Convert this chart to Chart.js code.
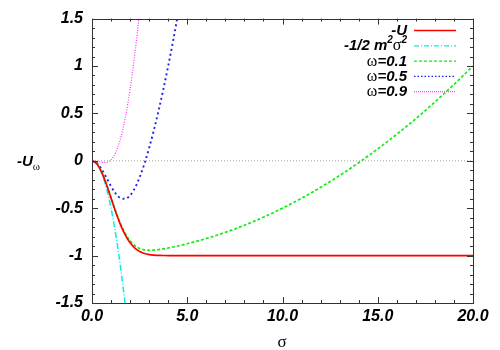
<!DOCTYPE html>
<html>
<head>
<meta charset="utf-8">
<script src="https://cdn.jsdelivr.net/npm/chart.js@4"></script>
<style>
  html, body { margin: 0; padding: 0; background: #fff; }
  #wrap { width: 500px; height: 350px; }
</style>
</head>
<body>
<div id="wrap"><canvas id="chart" width="500" height="350"></canvas></div>
<script>
const sigma = [0, 0.25, 0.5, 0.75, 1, 1.25, 1.5, 1.75, 2, 2.25, 2.5, 2.75, 3, 3.25, 3.5, 3.75, 4, 4.25, 4.5, 4.75, 5,
    6, 7, 8, 9, 10, 11, 12, 13, 14, 15, 16, 17, 18, 19, 20];

const minusU = [0, -0.0308, -0.1175, -0.2452, -0.3935, -0.5422, -0.6754, -0.7837, -0.8647, -0.9204, -0.9561, -0.9772,
    -0.9889, -0.9949, -0.9978, -0.9991, -0.9997, -0.9999, -1, -1, -1,
    -1, -1, -1, -1, -1, -1, -1, -1, -1, -1, -1, -1, -1, -1, -1];
const harmonic = [0, -0.0313, -0.125, -0.2813, -0.5, -0.7813, -1.125, -1.5313, -2];
const omega01 = [0, -0.0305, -0.1163, -0.2424, -0.3885, -0.5344, -0.6641, -0.7684, -0.8447, -0.8951, -0.9248, -0.9394,
    -0.9439, -0.9421, -0.9366, -0.9288, -0.9197, -0.9096, -0.8987, -0.8872, -0.875,
    -0.82, -0.755, -0.68, -0.595, -0.5, -0.395, -0.28, -0.155, -0.02, 0.125, 0.28, 0.445, 0.62, 0.805, 1.0];
const omega05 = [0, -0.023, -0.0863, -0.1749, -0.2685, -0.3469, -0.3941, -0.4009, -0.3647, -0.2876, -0.1748, -0.0319,
    0.1361, 0.3254, 0.5334, 0.7587, 1.0003, 1.258, 1.5313, 1.8203];
const omega09 = [0, -0.0055, -0.0163, -0.0174, 0.0115, 0.0906, 0.2359, 0.4566, 0.7553, 1.1299, 1.5752, 2.0856];
const zeroX = [0, 20];
const zeroY = [0, 0];

const xTicks = [0, 5, 10, 15, 20];
const yTicks = [-1.5, -1, -0.5, 0, 0.5, 1, 1.5];

const BI = sz => 'italic bold ' + sz + 'px "Liberation Sans", Arial, sans-serif';
const SYM = sz => sz + 'px "Liberation Serif", "DejaVu Serif", serif';

function pts(xs, ys) {
    return ys.map((v, i) => ({ x: xs[i], y: v }));
}

const series = [
    { label: [["-U", BI(15)]], data: pts(sigma, minusU), color: '#ff0000', dash: [], width: 1.7, legendDash: [] },
    { label: [["-1/2 m", BI(15)], ["2", BI(10), -7], ["σ", SYM(16)], ["2", BI(10), -7]], data: pts(sigma, harmonic), color: '#00eeee', dash: [6, 2, 1, 2], width: 1.5, legendDash: [5, 2, 1, 2] },
    { label: [["ω", SYM(16)], ["=0.1", BI(15)]], data: pts(sigma, omega01), color: '#11ee11', dash: [3, 2], width: 1.7, legendDash: [3, 2] },
    { label: [["ω", SYM(16)], ["=0.5", BI(15)]], data: pts(sigma, omega05), color: '#2020ee', dash: [2, 3], width: 1.9, legendDash: [1.5, 2] },
    { label: [["ω", SYM(16)], ["=0.9", BI(15)]], data: pts(sigma, omega09), color: '#ff33ff', dash: [1, 1.5], width: 1.2, legendDash: [1, 1] }
];

function drawRich(ctx, segs, x, y, align) {
    let total = 0;
    segs.forEach(s => { ctx.font = s[1]; total += ctx.measureText(s[0]).width; });
    let cx = align === 'right' ? x - total : (align === 'center' ? x - total / 2 : x);
    ctx.textAlign = 'left';
    ctx.textBaseline = 'alphabetic';
    segs.forEach(s => {
        ctx.font = s[1];
        ctx.fillText(s[0], cx, y + (s[2] || 0));
        cx += ctx.measureText(s[0]).width;
    });
}

const decorations = {
    id: 'decorations',
    afterDatasetsDraw(chart) {
        const ctx = chart.ctx;
        const a = chart.chartArea;
        const xs = chart.scales.x, ys = chart.scales.y;
        ctx.save();
        ctx.strokeStyle = '#333';
        ctx.lineWidth = 1;
        ctx.strokeRect(Math.round(a.left) + 0.5, Math.round(a.top) + 0.5, Math.round(a.right - a.left), Math.round(a.bottom - a.top));
        ctx.beginPath();
        for (let v = 0; v <= 20; v += 1) {
            const px = Math.round(xs.getPixelForValue(v)) + 0.5;
            const len = v % 5 === 0 ? 6 : 3;
            ctx.moveTo(px, a.bottom); ctx.lineTo(px, a.bottom - len);
            ctx.moveTo(px, a.top); ctx.lineTo(px, a.top + len);
        }
        for (let i = -15; i <= 15; i++) {
            const py = Math.round(ys.getPixelForValue(i / 10)) + 0.5;
            const len = i % 5 === 0 ? 6 : 3;
            ctx.moveTo(a.left, py); ctx.lineTo(a.left + len, py);
            ctx.moveTo(a.right, py); ctx.lineTo(a.right - len, py);
        }
        ctx.stroke();
        ctx.restore();
    },
    afterDraw(chart) {
        const ctx = chart.ctx;
        ctx.save();
        ctx.fillStyle = '#000';
        // legend, text on the left, sample line on the right
        series.forEach((s, i) => {
            const y = 30 + i * 15.3;
            drawRich(ctx, s.label, 407, y + 5, 'right');
            ctx.beginPath();
            ctx.strokeStyle = s.color;
            ctx.lineWidth = i === 0 ? 1.5 : 1.2;
            ctx.setLineDash(s.legendDash);
            ctx.moveTo(414, y + 0.5);
            ctx.lineTo(456, y + 0.5);
            ctx.stroke();
        });
        ctx.setLineDash([]);
        // axis titles
        drawRich(ctx, [["-U", BI(15)], ["ω", SYM(11), 4]], 17, 166, 'left');
        drawRich(ctx, [["σ", SYM(17)]], 282, 347, 'center');
        ctx.restore();
    }
};

const datasets = series.map(s => ({
    data: s.data,
    borderColor: s.color,
    borderWidth: s.width,
    borderDash: s.dash,
    pointRadius: 0,
    showLine: true,
    fill: false,
    cubicInterpolationMode: 'monotone'
}));
datasets.unshift({
    data: pts(zeroX, zeroY),
    borderColor: '#888',
    borderWidth: 0.8,
    borderDash: [1, 2],
    pointRadius: 0,
    showLine: true,
    fill: false
});

const tickFont = { family: '"Liberation Sans", Arial, sans-serif', size: 16, weight: 'bold', style: 'italic' };

new Chart(document.getElementById('chart').getContext('2d'), {
    type: 'scatter',
    data: { datasets: datasets },
    options: {
        responsive: false,
        animation: false,
        layout: { padding: { left: 0, right: 27, top: 18, bottom: 0 } },
        plugins: { legend: { display: false }, tooltip: { enabled: false } },
        scales: {
            x: {
                type: 'linear',
                min: 0, max: 20,
                grid: { display: false, drawTicks: false },
                border: { display: false },
                afterFit: s => { s.height = 47; },
                afterBuildTicks: s => { s.ticks = xTicks.map(v => ({ value: v })); },
                ticks: {
                    color: '#000',
                    padding: 4,
                    font: tickFont,
                    callback: v => v.toFixed(1)
                }
            },
            y: {
                type: 'linear',
                min: -1.5, max: 1.5,
                grid: { display: false, drawTicks: false },
                border: { display: false },
                afterFit: s => { s.width = 92; },
                afterBuildTicks: s => { s.ticks = yTicks.map(v => ({ value: v })); },
                ticks: {
                    color: '#000',
                    padding: 9,
                    font: tickFont,
                    callback: v => String(v)
                }
            }
        }
    },
    plugins: [decorations]
});
</script>
</body>
</html>
